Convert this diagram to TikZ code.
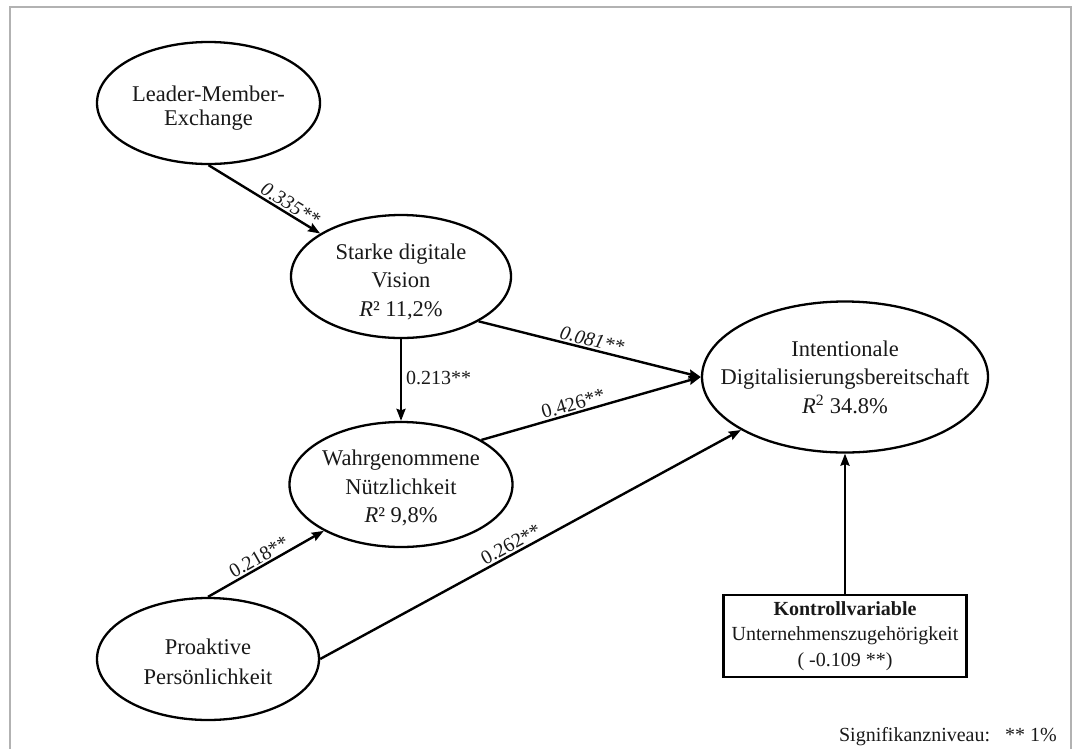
\documentclass[tikz,border=0pt]{standalone}
\usepackage{fontspec}
\setmainfont{Liberation Serif}
\usetikzlibrary{shapes.geometric,arrows.meta}
\begin{document}
\begin{tikzpicture}[x=1pt,y=-1pt,
  construct/.style={ellipse,draw,line width=2.3pt,inner sep=0pt},
  ctrlbox/.style={draw,line width=2.3pt,inner sep=0pt,align=center,text=black!90,font=\fontsize{20}{25.5}\selectfont},
  conn/.style={line width=2.4pt,-{Stealth[length=12pt,width=9pt,inset=1.5pt]}},
  coef/.style={font=\fontsize{20}{24}\selectfont,text=black!90,sloped,above,inner sep=1.5pt},
  coefit/.style={coef,font=\fontsize{20}{24}\selectfont\itshape},
  ntext/.style={align=center,font=\fontsize{22.5}{28.5}\selectfont,text=black!90,inner sep=0pt}
]
\useasboundingbox (0,0) rectangle (1074,748);
\draw[black!30,line width=1.5pt] (10,760) -- (10,7) -- (1071,7) -- (1071,760);

\node[construct,minimum width=223pt,minimum height=122pt,
  label={[ntext,yshift=-5pt]center:{Leader-Member-\\[-4.5pt]Exchange}}] (lmx) at (208.5,103) {};
\node[construct,minimum width=220pt,minimum height=123pt,
  label={[ntext,yshift=-5pt]center:{Starke digitale\\Vision\\\textit{R}² 11,2\%}}] (sdv) at (401,276.5) {};
\node[construct,minimum width=223pt,minimum height=125pt,
  label={[ntext,yshift=-3.5pt]center:{Wahrgenommene\\Nützlichkeit\\\textit{R}² 9,8\%}}] (wn) at (401,484.5) {};
\node[construct,minimum width=222pt,minimum height=122pt,
  label={[ntext,yshift=-3pt]center:{Proaktive\\[1.5pt]Persönlichkeit}}] (pro) at (208,659) {};
\node[construct,minimum width=286pt,minimum height=151pt,
  label={[ntext]center:{Intentionale\\Digitalisierungsbereitschaft\\\textit{R}\textsuperscript{2} 34.8\%}}] (int) at (845,377) {};
\node[ctrlbox,minimum width=243pt,minimum height=82pt] (ctrl) at (845,636)
  {\textbf{Kontrollvariable}\\Unternehmenszugehörigkeit\\( -0.109 **)};

\draw[conn] (lmx.south) -- node[coefit,pos=.69] {0.335**} (sdv.152);
\draw[conn] (sdv.-30) -- node[coefit,pos=.5] {0.081**} (int.west);
\draw[conn] (sdv.south) -- node[font=\fontsize{20}{24}\selectfont,text=black!90,right,pos=.48,inner sep=4pt] {0.213**} (wn.north);
\draw[conn] (wn.29) -- node[coef,pos=.43] {0.426**} (int.west);
\draw[conn] (pro.north) -- node[coef,pos=.48] {0.218**} (wn.211);
\draw[conn] (pro.east) -- node[coef,pos=.464] {0.262**} (int.207.5);
\draw[conn] (ctrl.north) -- (int.south);

\node[anchor=base east,font=\fontsize{20}{24}\selectfont,text=black!90,inner sep=0pt] (sig) at (1057,741) {Signifikanzniveau:\ \ \ ** 1\%};
\end{tikzpicture}
\end{document}
